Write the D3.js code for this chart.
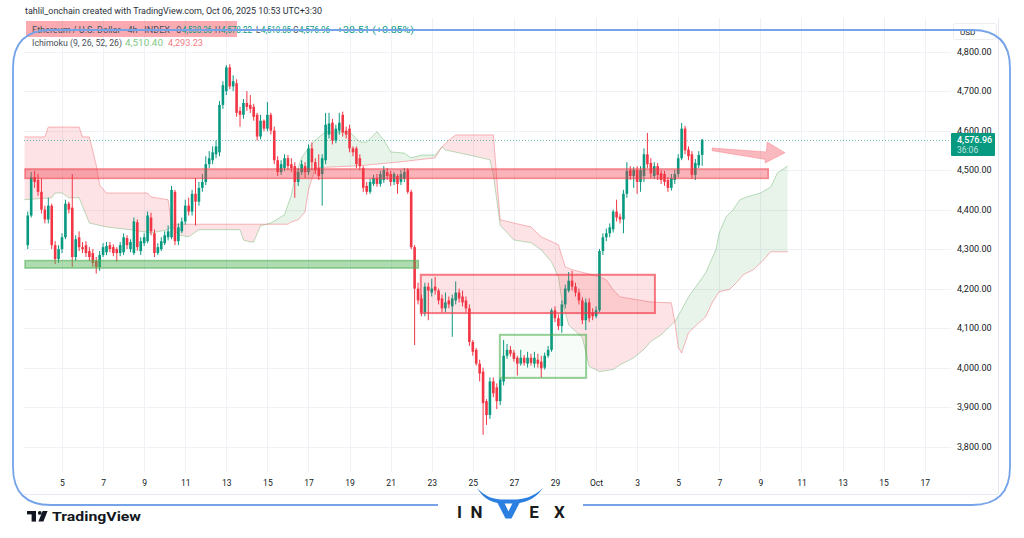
<!DOCTYPE html>
<html>
<head>
<meta charset="utf-8">
<script src="https://cdn.jsdelivr.net/npm/d3@7"></script>
<style>
  html, body { margin: 0; padding: 0; background: #fff; }
  svg { display: block; }
  text { font-family: Roboto, "Liberation Sans", "DejaVu Sans", sans-serif; }
</style>
</head>
<body>
<svg id="chart" width="1024" height="538"></svg>
<script>
// ETH/USD 4h bars, first bar opens 2025-09-03 08:00 UTC
const firstBarTime = Date.UTC(2025, 8, 3, 8);
const barMs = 4 * 3600 * 1000;

// [open, high, low, close]
const ohlc = [
  [4310,4395,4300,4385],[4385,4495,4380,4482],[4482,4498,4455,4470],[4475,4490,4435,4445],
  [4445,4478,4390,4400],[4400,4410,4365,4375],[4375,4430,4365,4410],[4410,4415,4300,4310],
  [4310,4320,4262,4275],[4275,4310,4265,4300],[4300,4340,4290,4330],[4330,4425,4325,4415],
  [4415,4420,4390,4400],[4405,4490,4255,4280],[4280,4335,4270,4325],[4330,4345,4295,4305],
  [4305,4318,4290,4300],[4310,4320,4280,4290],[4295,4305,4270,4280],[4290,4300,4255,4265],
  [4270,4280,4238,4255],[4255,4295,4245,4285],[4285,4315,4280,4305],[4292,4318,4285,4308],
  [4310,4318,4292,4300],[4305,4312,4282,4290],[4300,4305,4268,4290],[4290,4318,4282,4310],
  [4292,4340,4285,4330],[4328,4335,4300,4310],[4300,4325,4292,4318],[4290,4380,4285,4370],
  [4368,4375,4296,4305],[4295,4330,4285,4320],[4315,4340,4308,4330],[4320,4395,4315,4385],
  [4380,4392,4335,4345],[4340,4350,4280,4290],[4290,4315,4285,4305],[4300,4330,4295,4320],
  [4315,4345,4310,4335],[4330,4360,4322,4345],[4330,4460,4325,4450],[4445,4450,4310,4320],
  [4320,4365,4310,4355],[4345,4380,4340,4370],[4370,4425,4362,4410],[4410,4430,4385,4395],
  [4395,4450,4385,4440],[4440,4480,4360,4420],[4420,4470,4410,4455],[4455,4490,4445,4470],
  [4470,4535,4462,4515],[4515,4548,4505,4530],[4525,4560,4515,4545],[4540,4575,4530,4560],
  [4545,4675,4535,4665],[4665,4725,4655,4715],[4700,4766,4690,4760],[4760,4768,4705,4712],
  [4712,4740,4700,4725],[4720,4730,4635,4645],[4650,4660,4610,4640],[4640,4680,4630,4670],
  [4670,4700,4650,4660],[4665,4690,4645,4655],[4660,4668,4625,4635],[4640,4645,4575,4585],
  [4585,4640,4578,4625],[4625,4628,4598,4605],[4605,4672,4598,4640],[4640,4645,4590,4600],
  [4600,4610,4515,4525],[4525,4535,4485,4495],[4495,4525,4488,4515],[4505,4540,4498,4530],
  [4530,4538,4500,4510],[4515,4530,4495,4505],[4510,4520,4430,4470],[4470,4505,4460,4495],
  [4495,4525,4488,4515],[4510,4520,4480,4495],[4495,4565,4488,4555],[4555,4570,4500,4520],
  [4520,4530,4490,4500],[4505,4540,4475,4485],[4490,4540,4410,4530],[4525,4645,4515,4615],
  [4590,4645,4580,4618],[4620,4630,4565,4575],[4575,4615,4568,4605],[4600,4645,4590,4620],
  [4640,4648,4585,4595],[4600,4610,4580,4590],[4605,4615,4545,4555],[4555,4560,4535,4545],
  [4555,4560,4505,4515],[4530,4540,4500,4510],[4505,4510,4445,4455],[4460,4470,4438,4445],
  [4445,4478,4440,4470],[4465,4488,4460,4480],[4480,4490,4458,4465],[4465,4498,4458,4490],
  [4475,4510,4468,4500],[4495,4505,4475,4485],[4490,4498,4460,4470],[4470,4495,4462,4490],
  [4485,4490,4440,4465],[4470,4500,4462,4490],[4478,4505,4470,4495],[4500,4505,4440,4445],
  [4445,4450,4300,4305],[4305,4310,4057,4200],[4200,4215,4160,4170],[4175,4185,4130,4140],
  [4140,4215,4130,4205],[4205,4215,4120,4195],[4190,4225,4180,4200],[4205,4230,4185,4195],
  [4195,4200,4160,4170],[4175,4185,4140,4150],[4150,4190,4140,4165],[4170,4180,4150,4160],
  [4155,4185,4078,4175],[4170,4218,4160,4190],[4190,4200,4165,4175],[4180,4195,4155,4165],
  [4170,4180,4140,4150],[4150,4160,4055,4065],[4065,4070,4030,4040],[4045,4050,4005,4010],
  [4010,4020,3965,3985],[3990,4000,3830,3910],[3915,3920,3855,3880],[3880,3975,3870,3965],
  [3965,3975,3925,3935],[3950,3960,3895,3915],[3915,3975,3905,3970],[3965,4070,3955,4030],
  [4030,4060,4022,4045],[4045,4055,4028,4035],[4038,4045,4015,4022],[4025,4030,3980,4010],
  [4010,4045,4005,4025],[4025,4032,4005,4012],[4010,4040,4000,4025],[4025,4035,4005,4012],
  [4010,4040,4000,4025],[4020,4035,4000,4010],[4015,4030,3975,3998],[4000,4038,3995,4030],
  [4030,4055,4025,4045],[4045,4150,4040,4145],[4145,4155,4115,4125],[4125,4135,4095,4105],
  [4105,4170,4088,4160],[4160,4210,4150,4200],[4195,4242,4190,4220],[4220,4245,4195,4205],
  [4205,4215,4180,4190],[4190,4200,4160,4170],[4170,4178,4110,4120],[4120,4175,4095,4165],
  [4165,4175,4115,4125],[4140,4150,4120,4130],[4130,4155,4125,4145],[4145,4300,4140,4295],
  [4295,4340,4285,4330],[4330,4352,4320,4340],[4340,4365,4330,4355],[4350,4400,4342,4395],
  [4395,4425,4370,4380],[4382,4390,4365,4375],[4375,4450,4340,4440],[4440,4520,4430,4498],
  [4500,4510,4475,4485],[4485,4508,4455,4500],[4500,4510,4440,4470],[4470,4510,4445,4500],
  [4485,4555,4470,4540],[4540,4594,4505,4515],[4518,4530,4480,4492],[4485,4520,4478,4510],
  [4510,4518,4475,4488],[4492,4500,4465,4475],[4490,4498,4460,4470],[4475,4482,4445,4455],
  [4455,4490,4448,4480],[4475,4500,4465,4490],[4490,4540,4482,4530],[4530,4619,4525,4605],
  [4605,4612,4540,4550],[4552,4560,4525,4535],[4540,4548,4478,4488],[4488,4528,4475,4518],
  [4512,4548,4505,4538.45],[4538.36,4578.22,4510.85,4576.96]
];

// Ichimoku cloud (9, 26, 52, 26): [bar index, price] vertices, projected 26 bars ahead
const leadA = [
  [-1,4425],[7,4430],[8,4442],[10,4442],[12,4430],[15,4430],[17,4387],[18,4366],[23,4356],
  [30,4349],[36,4341],[41,4349],[42,4359],[44,4336],[47,4331],[50,4349],[62,4349],[63,4323],
  [65,4318],[66,4318],[68,4359],[71,4366],[75,4387],[76,4412],[77,4437],[78,4480],[80,4531],
  [82,4556],[84,4576],[87,4597],[94,4597],[97,4571],[99,4571],[102,4597],[104,4576],[106,4546],
  [110,4543],[112,4531],[115,4538],[119,4538],[121,4559],[122,4551],[129,4538],[135,4526],
  [136,4488],[138,4360],[142,4323],[147,4316],[150,4298],[153,4267],[155,4230],[156,4172],
  [158,4108],[162,4076],[164,4003],[167,3990],[171,3995],[173,4007],[177,4025],[180,4046],
  [182,4066],[185,4083],[187,4100],[189,4116],[191,4146],[193,4179],[196,4215],[198,4240],
  [201,4298],[202,4341],[204,4382],[206,4399],[208,4425],[210,4432],[214,4442],[217,4457],
  [219,4493],[222,4510.40]
];
const leadB = [
  [-1,4584],[5,4584],[6,4609],[15,4609],[16,4584],[18,4584],[20,4513],[21,4462],[23,4442],
  [35,4442],[36,4432],[41,4425],[42,4363],[76,4363],[77,4369],[79,4374],[81,4394],[82,4450],
  [83,4478],[84,4506],[97,4511],[109,4521],[119,4531],[121,4559],[123,4576],[125,4589],
  [136,4589],[138,4374],[147,4356],[150,4331],[155,4311],[157,4255],[159,4248],[167,4230],
  [169,4222],[171,4197],[173,4179],[182,4166],[188,4164],[189,4116],[190,4052],[191,4037],
  [193,4088],[196,4113],[198,4128],[200,4166],[202,4192],[205,4198],[207,4215],[209,4235],
  [212,4248],[215,4273],[217,4293.23],[222,4293.23]
];

// axis ticks
const priceTicks = [3800, 3900, 4000, 4100, 4200, 4300, 4400, 4500, 4600, 4700, 4800];
const timeTickDays = [
  "2025-09-05","2025-09-07","2025-09-09","2025-09-11","2025-09-13","2025-09-15","2025-09-17",
  "2025-09-19","2025-09-21","2025-09-23","2025-09-25","2025-09-27","2025-09-29","2025-10-01",
  "2025-10-03","2025-10-05","2025-10-07","2025-10-09","2025-10-11","2025-10-13","2025-10-15",
  "2025-10-17"
];
const timeTickLabels = ["5","7","9","11","13","15","17","19","21","23","25","27","29","Oct",
  "3","5","7","9","11","13","15","17"];

const lastPrice = 4576.96;
const barCountdown = "36:06";

// drawings: [fromBar, toBar, topPrice, bottomPrice]
const resistanceZone = [-0.8, 216.3, 4503, 4479];
const supportZone = [-0.8, 114.1, 4271, 4252];
const rangeBoxRed = [114.8, 183.2, 4235, 4138];
const rangeBoxGreen = [137.9, 163.1, 4083, 3974];
// arrow outline: [bar, price]
const arrowShape = [[199.9,4556],[215.7,4546],[216,4571],[221.2,4544],[215.4,4518],[215.4,4527],[199.9,4549]];

// ---------------------------------------------------------------
const svg = d3.select("#chart");
const W = 1024, H = 538;
const pane = { left: 24, right: 951, top: 18, bottom: 472 };

const x = d3.scaleUtc()
  .domain([new Date(Date.UTC(2025, 8, 5)), new Date(Date.UTC(2025, 9, 17))])
  .range([62, 924.7]);
const barX = i => x(new Date(firstBarTime + i * barMs));
const y = d3.scaleLinear().domain([3800, 4800]).range([446.6, 51.6]);

svg.append("rect").attr("width", W).attr("height", H).attr("fill", "#fff");

const defs = svg.append("defs");
defs.append("clipPath").attr("id", "paneClip").append("rect")
  .attr("x", pane.left).attr("y", pane.top)
  .attr("width", pane.right - pane.left).attr("height", pane.bottom - pane.top);

// grid
const grid = svg.append("g").attr("stroke", "#eef1f6").attr("stroke-width", 1);
grid.selectAll("line.h").data(priceTicks).join("line")
  .attr("x1", pane.left).attr("x2", pane.right)
  .attr("y1", d => Math.round(y(d)) + 0.5).attr("y2", d => Math.round(y(d)) + 0.5);
const tickDates = timeTickDays.map(s => new Date(s + "T00:00:00Z"));
grid.selectAll("line.v").data(tickDates).join("line")
  .attr("y1", pane.top).attr("y2", pane.bottom)
  .attr("x1", d => Math.round(x(d)) + 0.5).attr("x2", d => Math.round(x(d)) + 0.5);

// scale borders
svg.append("line").attr("x1", 998.5).attr("x2", 998.5).attr("y1", 18).attr("y2", 494)
  .attr("stroke", "#e6e9ef");
svg.append("line").attr("x1", 24).attr("x2", 998.5).attr("y1", 494.5).attr("y2", 494.5)
  .attr("stroke", "#e6e9ef");

const plot = svg.append("g").attr("clip-path", "url(#paneClip)");

// ---- Ichimoku cloud
const lineGen = d3.line().x(d => barX(d[0])).y(d => y(d[1]));
const pathA = lineGen(leadA);
const pathB = lineGen(leadB);
const pathBRev = lineGen(leadB.slice().reverse()).replace(/^M/, "L");
const between = pathA + pathBRev + "Z";
const bFirst = barX(leadB[0][0]), bLast = barX(leadB[leadB.length - 1][0]);
defs.append("clipPath").attr("id", "aboveB").append("path")
  .attr("d", pathB + `L${bLast},0L${bFirst},0Z`);
defs.append("clipPath").attr("id", "belowB").append("path")
  .attr("d", pathB + `L${bLast},${H}L${bFirst},${H}Z`);

plot.append("path").attr("d", between).attr("clip-path", "url(#aboveB)")
  .attr("fill", "rgba(67,160,71,0.12)");
plot.append("path").attr("d", between).attr("clip-path", "url(#belowB)")
  .attr("fill", "rgba(242,54,69,0.14)");
plot.append("path").attr("d", pathA).attr("fill", "none")
  .attr("stroke", "rgba(67,160,71,0.35)").attr("stroke-width", 1);
plot.append("path").attr("d", pathB).attr("fill", "none")
  .attr("stroke", "rgba(242,54,69,0.35)").attr("stroke-width", 1);

// ---- candles
const up = "#089981", down = "#f23645";
const candles = plot.append("g").selectAll("g").data(ohlc).join("g")
  .attr("fill", d => d[3] >= d[0] ? up : down)
  .attr("stroke", d => d[3] >= d[0] ? up : down);
candles.append("line")
  .attr("x1", (d, i) => barX(i)).attr("x2", (d, i) => barX(i))
  .attr("y1", d => y(d[1])).attr("y2", d => y(d[2]))
  .attr("stroke-width", 1);
candles.append("rect")
  .attr("stroke", "none")
  .attr("x", (d, i) => barX(i) - 1.3).attr("width", 2.6)
  .attr("y", d => y(Math.max(d[0], d[3])))
  .attr("height", d => Math.max(1, Math.abs(y(d[0]) - y(d[3]))));

// ---- drawings
function zoneRect(g, z, fill, stroke, sw) {
  g.append("rect")
    .attr("x", barX(z[0])).attr("width", barX(z[1]) - barX(z[0]))
    .attr("y", y(z[2])).attr("height", y(z[3]) - y(z[2]))
    .attr("fill", fill).attr("stroke", stroke).attr("stroke-width", sw);
}
zoneRect(plot, resistanceZone, "rgba(242,54,69,0.38)", "rgba(242,54,69,0.55)", 1.5);
zoneRect(plot, supportZone, "rgba(76,175,80,0.45)", "rgba(76,175,80,0.6)", 1.5);
zoneRect(plot, rangeBoxRed, "rgba(242,54,69,0.14)", "rgba(242,54,69,0.65)", 2);
zoneRect(plot, rangeBoxGreen, "rgba(76,175,80,0.04)", "rgba(76,175,80,0.6)", 2);
plot.append("path")
  .attr("d", d3.line().x(d => barX(d[0])).y(d => y(d[1]))(arrowShape) + "Z")
  .attr("fill", "rgba(242,54,69,0.35)").attr("stroke", "rgba(242,54,69,0.25)");

// last price line
plot.append("line").attr("x1", pane.left).attr("x2", pane.right)
  .attr("y1", Math.round(y(lastPrice)) + 0.5).attr("y2", Math.round(y(lastPrice)) + 0.5)
  .attr("stroke", up).attr("stroke-opacity", 0.6).attr("stroke-width", 1).attr("stroke-dasharray", "1,2");

// ---- axes
const yAxis = svg.append("g").attr("transform", "translate(957,0)")
  .call(d3.axisRight(y).tickValues(priceTicks).tickFormat(d3.format(",.2f")).tickSize(0).tickPadding(0));
yAxis.select(".domain").remove();
yAxis.selectAll("text").attr("font-size", 9).attr("fill", "#131722")
  .attr("font-family", "Roboto, 'Liberation Sans', sans-serif");

const xAxis = svg.append("g").attr("transform", "translate(0,480)")
  .call(d3.axisBottom(x).tickValues(tickDates).tickFormat((d, i) => timeTickLabels[i]).tickSize(0).tickPadding(0));
xAxis.select(".domain").remove();
xAxis.selectAll("text").attr("font-size", 8.5).attr("fill", "#131722")
  .attr("font-family", "Roboto, 'Liberation Sans', sans-serif");

// price label for the last bar
const ly = y(lastPrice);
svg.append("rect").attr("x", 951).attr("y", ly - 6.8).attr("width", 44).attr("height", 23)
  .attr("fill", up).attr("rx", 1);
svg.append("text").attr("x", 957).attr("y", ly + 3).attr("font-size", 9).attr("font-weight", 500)
  .attr("fill", "#fff").text(d3.format(",.2f")(lastPrice));
svg.append("text").attr("x", 957).attr("y", ly + 13.5).attr("font-size", 8.5)
  .attr("fill", "rgba(255,255,255,0.75)").text(barCountdown);

// currency box
svg.append("rect").attr("x", 953.5).attr("y", 23.5).attr("width", 43).attr("height", 16)
  .attr("fill", "#fff").attr("stroke", "#eceef2").attr("rx", 2);
svg.append("text").attr("x", 960).attr("y", 35).attr("font-size", 8).attr("fill", "#131722").text("USD");

// ---- header
svg.append("text").attr("x", 25).attr("y", 14).attr("font-size", 9).attr("fill", "#2a2e39")
  .attr("textLength", 297).attr("lengthAdjust", "spacingAndGlyphs")
  .text("tahlil_onchain created with TradingView.com, Oct 06, 2025 10:53 UTC+3:30");

svg.append("rect").attr("x", 26).attr("y", 21).attr("width", 211).attr("height", 16)
  .attr("fill", "rgba(242,54,69,0.42)");
const legendRow = [
  { x: 32, w: 138, t: "Ethereum / U.S. Dollar · 4h · INDEX", c: "#4a4e59" },
  { x: 176, w: 5.5, t: "O", c: "#4a4e59" }, { x: 182, w: 30, t: "4,538.36", c: up },
  { x: 215, w: 5.5, t: "H", c: "#4a4e59" }, { x: 221, w: 31, t: "4,578.22", c: up },
  { x: 256, w: 4.5, t: "L", c: "#4a4e59" }, { x: 261, w: 30, t: "4,510.85", c: up },
  { x: 293, w: 5.5, t: "C", c: "#4a4e59" }, { x: 299, w: 31, t: "4,576.96", c: up },
  { x: 337, w: 77, t: "+38.51 (+0.85%)", c: up }
];
svg.append("g").selectAll("text").data(legendRow).join("text")
  .attr("x", d => d.x).attr("y", 32.5).attr("font-size", 8.6)
  .attr("textLength", d => d.w).attr("lengthAdjust", "spacingAndGlyphs")
  .attr("fill", d => d.c).text(d => d.t);

const ichiRow = [
  { x: 32, w: 90, t: "Ichimoku (9, 26, 52, 26)", c: "#4a4e59" },
  { x: 125, w: 38, t: "4,510.40", c: "#81c784" },
  { x: 168, w: 35, t: "4,293.23", c: "#f47c84" }
];
svg.append("g").selectAll("text").data(ichiRow).join("text")
  .attr("x", d => d.x).attr("y", 46).attr("font-size", 8.6)
  .attr("textLength", d => d.w).attr("lengthAdjust", "spacingAndGlyphs")
  .attr("fill", d => d.c).text(d => d.t);

// ---- rounded frame with a gap for the brand mark
const fl = 13, fr = 1010, ft = 30, fb = 505, r = 38;
const framePath = `M438,${fb} L${fl + r},${fb} Q${fl},${fb} ${fl},${fb - r} L${fl},${ft + r} Q${fl},${ft} ${fl + r},${ft}` +
  ` L${fr - r},${ft} Q${fr},${ft} ${fr},${ft + r} L${fr},${fb - r} Q${fr},${fb} ${fr - r},${fb} L583,${fb}`;
svg.append("path").attr("d", framePath).attr("fill", "none")
  .attr("stroke", "#74a3e8").attr("stroke-width", 1.8);

// ---- INVEX mark
const brand = svg.append("g");
[["I", 459.5], ["N", 476.5], ["E", 534], ["X", 559.5]].forEach(([t, cx]) => {
  brand.append("text").attr("x", cx).attr("y", 518).attr("text-anchor", "middle")
    .attr("font-size", 17).attr("font-weight", "bold")
    .attr("font-family", "'DejaVu Sans', sans-serif").attr("fill", "#1b1b1b").text(t);
});
brand.append("path")
  .attr("d", "M477,488 C484,500 494,503.5 504,503.5 L513,503.5 C523,503.5 535,500 543,488 C534,497 523,499.5 513,499.5 L504,499.5 C494,499.5 485,497 477,488 Z")
  .attr("fill", "#2b7fe0");
brand.append("path")
  .attr("d", "M496.5,501 L503.5,501 L508.5,511.5 L513.5,501 L520.5,501 L511.5,518.5 L505.5,518.5 Z")
  .attr("fill", "#2b7fe0");

// ---- TradingView mark
const tv = svg.append("g").attr("fill", "#131722");
tv.append("rect").attr("x", 27).attr("y", 511).attr("width", 9).attr("height", 3.4);
tv.append("rect").attr("x", 31.6).attr("y", 511).attr("width", 4.4).attr("height", 10.6);
tv.append("circle").attr("cx", 39.8).attr("cy", 512.9).attr("r", 1.9);
tv.append("path").attr("d", "M42.6,511 L47.6,511 L43.4,521.6 L38.4,521.6 Z");
svg.append("text").attr("x", 52).attr("y", 521).attr("font-size", 13.5).attr("font-weight", "bold")
  .attr("textLength", 89).attr("lengthAdjust", "spacingAndGlyphs")
  .attr("fill", "#131722").text("TradingView");
</script>
</body>
</html>
